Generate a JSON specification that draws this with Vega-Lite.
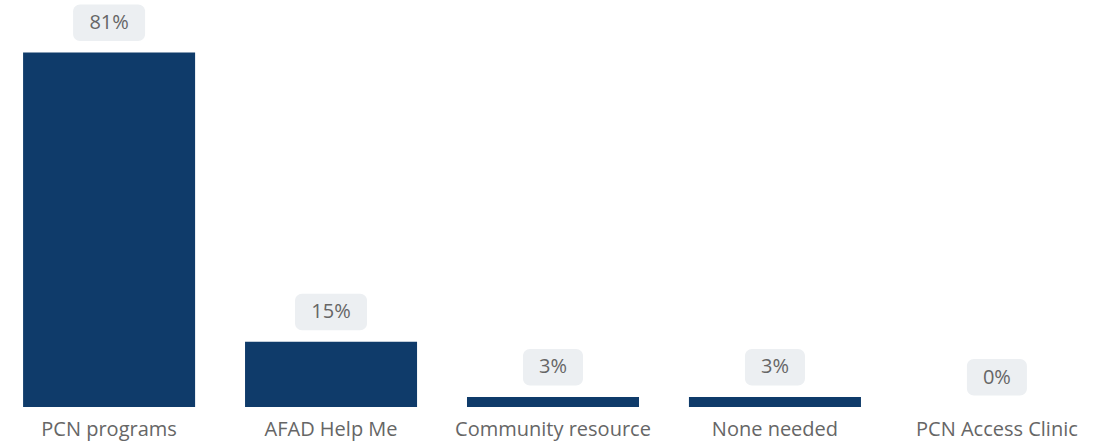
{
  "$schema": "https://vega.github.io/schema/vega-lite/v6.json",
  "width": 1106,
  "height": 407,
  "padding": {"left": 0, "top": 0, "right": 0, "bottom": 12},
  "autosize": {"type": "pad"},
  "background": "white",
  "config": {"view": {"stroke": null}, "font": "Open Sans"},
  "data": {"values": [
    {"category": "PCN programs", "value": 81, "label": "81%"},
    {"category": "AFAD Help Me", "value": 14.9, "label": "15%"},
    {"category": "Community resource", "value": 2.3, "label": "3%"},
    {"category": "None needed", "value": 2.3, "label": "3%"},
    {"category": "PCN Access Clinic", "value": 0, "label": "0%"}
  ]},
  "encoding": {
    "x": {"field": "category", "type": "nominal", "sort": null,
      "scale": {"paddingInner": 0.225, "paddingOuter": 0.104},
      "axis": {"title": null, "labelAngle": 0, "domain": false, "ticks": false, "labelFontSize": 20, "labelColor": "#666666", "labelPadding": 12, "labelLimit": 0, "labelFont": "Open Sans"}},
    "y": {"field": "value", "type": "quantitative", "scale": {"domain": [0, 93], "nice": false}, "axis": null}
  },
  "layer": [
    {"mark": {"type": "bar", "color": "#0f3b6a"}},
    {"transform": [{"filter": "datum.value >= 10"}],
     "mark": {"type": "bar", "width": 72, "color": "#eceff2", "cornerRadius": 7, "yOffset": -11.5, "y2Offset": -48},
     "encoding": {"y2": {"field": "value"}}},
    {"transform": [{"filter": "datum.value < 10"}],
     "mark": {"type": "bar", "width": 60, "color": "#eceff2", "cornerRadius": 7, "yOffset": -11.5, "y2Offset": -48},
     "encoding": {"y2": {"field": "value"}}},
    {"mark": {"type": "text", "fontSize": 20, "color": "#666666", "baseline": "middle", "dy": -29.5, "font": "Open Sans"},
     "encoding": {"text": {"field": "label"}}}
  ]
}
